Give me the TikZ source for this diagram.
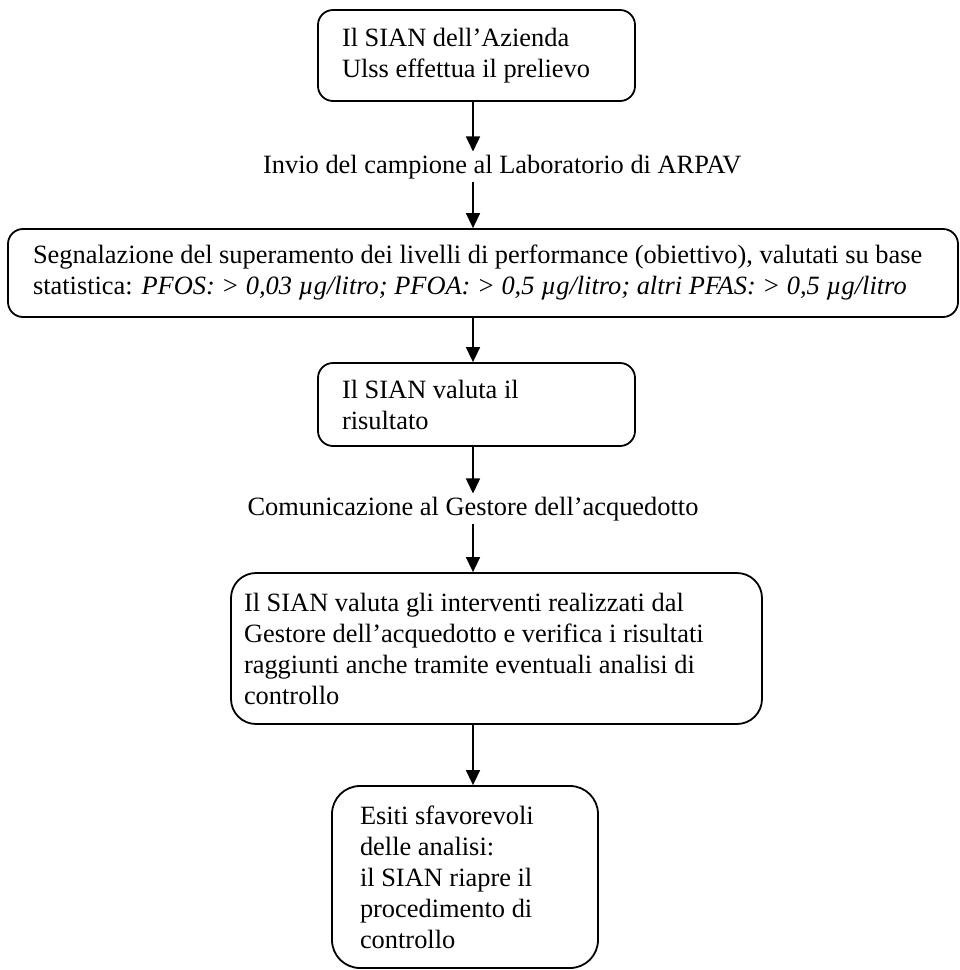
\documentclass[tikz,border=0pt]{standalone}
\usepackage{fontspec}
\setmainfont{Liberation Serif}
\usetikzlibrary{arrows.meta}

\tikzstyle{arrow} = [line width=1.6pt,-{Triangle[length=15pt,width=14pt]}]
\tikzstyle{stepbox} = [draw, line width=1.8pt, rounded corners=15pt, align=flush left, inner ysep=0pt, font=\fontsize{26.4}{31}\selectfont]
\tikzstyle{msg} = [inner sep=3pt, font=\fontsize{26.4}{31}\selectfont]

\begin{document}
\begin{tikzpicture}[x=1pt,y=-1pt]
\useasboundingbox (0,0) rectangle (960,970);
\coordinate (c) at (473,0);

\node (1) [stepbox, inner xsep=24pt, text width=269pt, minimum height=91pt] at (476.5,55.5) {Il SIAN dell’Azienda\\Ulss effettua il prelievo};
\node (t1) [msg, anchor=base west] at (260,173) {Invio del campione al Laboratorio di ARPAV};
\node (2) [stepbox, inner xsep=25pt, text width=900pt, minimum height=88pt] at (483,273) {Segnalazione del superamento dei livelli di performance (obiettivo), valutati su base\\statistica: \textit{PFOS: > 0,03 µg/litro; PFOA: > 0,5 µg/litro; altri PFAS: > 0,5 µg/litro}};
\node (3) [stepbox, inner xsep=24pt, text width=269pt, minimum height=83pt] at (476.5,404.5) {Il SIAN valuta il\\risultato};
\node (t2) [msg, anchor=base] at (473,515) {Comunicazione al Gestore dell’acquedotto};
\node (4) [stepbox, rounded corners=25pt, inner xsep=13pt, text width=505pt, minimum height=151pt] at (496.5,648.5) {Il SIAN valuta gli interventi realizzati dal\\Gestore dell’acquedotto e verifica i risultati\\raggiunti anche tramite eventuali analisi di\\controllo};
\node (5) [stepbox, rounded corners=28pt, inner xsep=28pt, text width=210pt, minimum height=182pt] at (465,877) {Esiti sfavorevoli\\delle analisi:\\il SIAN riapre il\\procedimento di\\controllo};

\draw [arrow] (1.south -| c) -- (t1.north -| c);
\draw [arrow] (t1.south -| c) -- (2.north -| c);
\draw [arrow] (2.south -| c) -- (3.north -| c);
\draw [arrow] (3.south -| c) -- (t2.north -| c);
\draw [arrow] (t2.south -| c) -- (4.north -| c);
\draw [arrow] (4.south -| c) -- (5.north -| c);

\end{tikzpicture}
\end{document}
